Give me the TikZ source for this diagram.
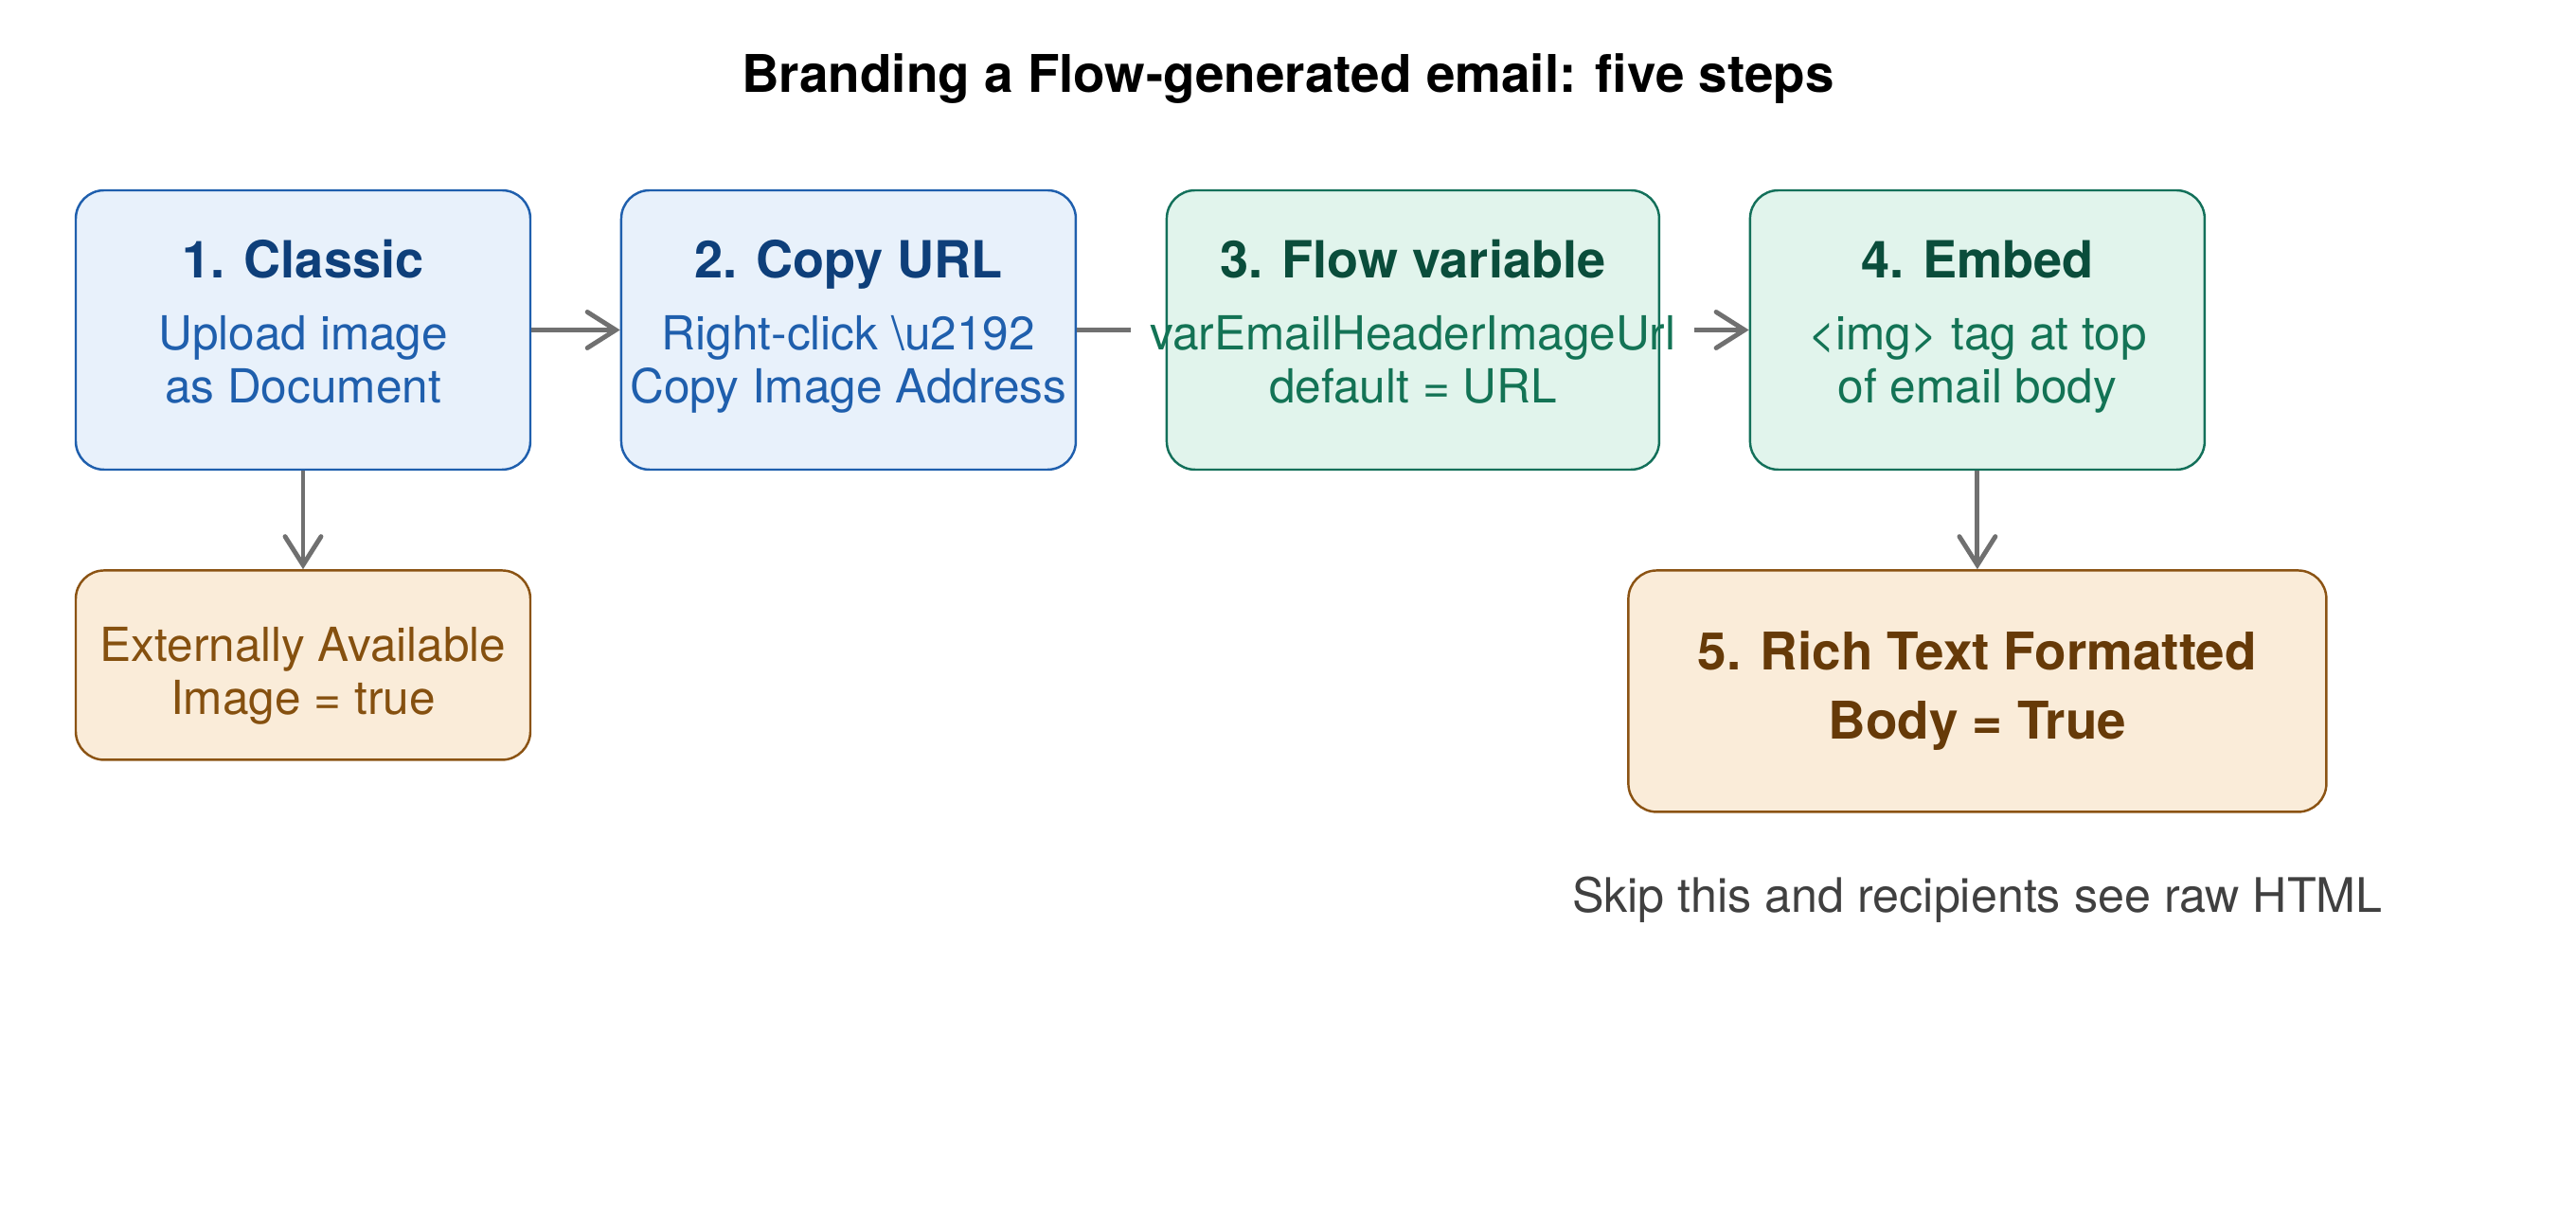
\documentclass[tikz,border=0pt]{standalone}
\usepackage{fontspec}
\setmainfont{TeX Gyre Heros}
\usepackage{tikz}
\usetikzlibrary{arrows.meta, positioning}

\definecolor{bluefill}{HTML}{E8F1FB}
\definecolor{blueline}{HTML}{1F5FAD}
\definecolor{bluehd}{HTML}{0E3F7A}
\definecolor{greenfill}{HTML}{E1F4EC}
\definecolor{greenline}{HTML}{13705A}
\definecolor{greenhd}{HTML}{0A4D3B}
\definecolor{greenbd}{HTML}{137355}
\definecolor{tanfill}{HTML}{FAECD9}
\definecolor{tanline}{HTML}{8B5313}
\definecolor{tantext}{HTML}{85500F}
\definecolor{tanhd}{HTML}{663A08}
\definecolor{arrgray}{HTML}{707070}
\definecolor{notegray}{HTML}{404040}

\begin{document}
\begin{tikzpicture}[
  box/.style ={draw, rounded corners=0.3cm, line width=0.7pt, inner sep=0pt,
               minimum width=4.8cm, minimum height=2.95cm},
  hd/.style  ={font=\fontsize{15.4}{18}\selectfont\bfseries, anchor=base},
  bd/.style  ={font=\fontsize{14.1}{15.9}\selectfont, align=center, anchor=base},
  arr/.style ={draw=arrgray, line width=1.4pt,
               -{Straight Barb[length=0.3cm, width=0.38cm, line cap=round]}},
  ln/.style  ={draw=arrgray, line width=1.4pt},
]
\useasboundingbox (0,0) rectangle (27.2,-12.8);

\node [font=\fontsize{15.6}{18}\selectfont\bfseries] (title) at (13.6,-0.83)
      {Branding a Flow-generated email: five steps};

% top row
\node [box, fill=bluefill , draw=blueline ] (c1) at (3.2,-3.485)   {};
\node [box, fill=bluefill , draw=blueline , right=0.935cm of c1] (c2) {};
\node [box, fill=greenfill, draw=greenline, right=0.935cm of c2, minimum width=5.2cm] (c3) {};
\node [box, fill=greenfill, draw=greenline, right=0.935cm of c3] (c4) {};

% lower row
\node [box, fill=tanfill, draw=tanline, below=1.04cm of c1, minimum height=2cm] (ext) {};
\node [box, fill=tanfill, draw=tanline, below=1.04cm of c4, minimum width=7.37cm,
       minimum height=2.55cm, font=\fontsize{15.6}{20.7}\selectfont\bfseries,
       align=center, text=tanhd] (rtf)
      {5. Rich Text Formatted\\Body = True};

\path [arr] (c1) edge (c2);
\path [ln , shorten >=0.37cm] (c2) edge (c3);
\path [arr, shorten <=0.36cm] (c3) edge (c4);
\path [arr] (c1) edge (ext);
\path [arr] (c4) edge (rtf);

% box texts
\node [hd, text=bluehd , yshift=-0.94cm] (c1h) at (c1.north) {1. Classic};
\node [bd, text=blueline, yshift=-2.26cm] (c1b) at (c1.north) {Upload image\\as Document};
\node [hd, text=bluehd , yshift=-0.94cm] (c2h) at (c2.north) {2. Copy URL};
\node [bd, text=blueline, yshift=-2.26cm] (c2b) at (c2.north) {Right-click \textbackslash u2192\\Copy Image Address};
\node [hd, text=greenhd, yshift=-0.94cm] (c3h) at (c3.north) {3. Flow variable};
\node [bd, text=greenbd, yshift=-2.26cm] (c3b) at (c3.north) {varEmailHeaderImageUrl\\default = URL};
\node [hd, text=greenhd, yshift=-0.94cm] (c4h) at (c4.north) {4. Embed};
\node [bd, text=greenbd, yshift=-2.26cm] (c4b) at (c4.north) {<img> tag at top\\of email body};
\node [bd, text=tantext, yshift=-1.53cm] (extb) at (ext.north) {Externally Available\\Image = true};

\node [font=\fontsize{14.3}{17}\selectfont, text=notegray, below=0.55cm of rtf] (note)
      {Skip this and recipients see raw HTML};

\end{tikzpicture}
\end{document}
